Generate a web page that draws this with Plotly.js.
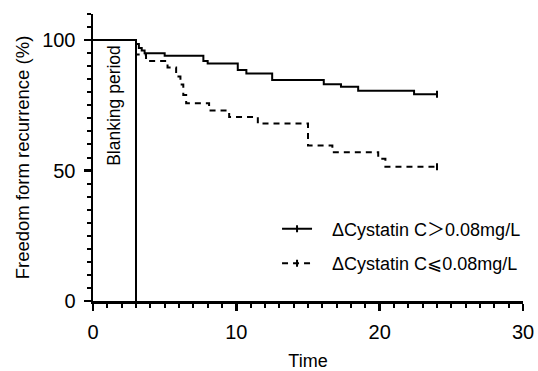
<!DOCTYPE html>
<html>
<head>
<meta charset="utf-8">
<script src="https://cdn.plot.ly/plotly-3.0.1.min.js"></script>
<style>html,body{margin:0;padding:0;background:#fff;}#chart{width:538px;height:371px;}</style>
</head>
<body>
<div id="chart"></div>
<script>
// Kaplan-Meier step data (time in months, survival %)
const solidTime = [0, 3.0, 3.2, 3.4, 3.6, 5.0, 7.7, 8.0, 10.1, 10.7, 12.5, 16.1, 17.3, 18.5, 22.4, 24];
const solidSurv = [100, 98.5, 97, 96, 95, 94, 92, 91, 88.5, 87.2, 84.7, 83.1, 82.1, 80.6, 79.2, 79.2];
const dashTime = [0, 3.0, 3.7, 5.2, 5.8, 6.1, 6.3, 6.5, 8.1, 9.5, 11.5, 15.0, 16.7, 19.9, 20.4, 24];
const dashSurv = [100, 94.5, 92, 89.5, 86, 83, 79, 75.8, 73, 70.5, 68, 59.6, 57, 54.5, 51.5, 51.5];
const censorTimeSolid = [24];
const censorSurvSolid = [79.2];
const censorTimeDash = [24];
const censorSurvDash = [51.5];
const seriesNames = ["ΔCystatin C＞0.08mg/L", "ΔCystatin C⩽0.08mg/L"];
const blankingEnd = 3;
const blankingLine = [0, 100];
const blankingLabel = "Blanking period";
const xTitle = "Time";
const yTitle = "Freedom form recurrence (%)";

const FONT = "Arial, 'Liberation Sans', 'Noto Sans CJK SC', 'DejaVu Sans', sans-serif";
const pad = "\u00a0\u00a0\u00a0";

const traces = [
  {x: solidTime, y: solidSurv, mode: "lines", line: {shape: "hv", color: "#000", width: 2}, showlegend: false, hoverinfo: "skip"},
  {x: dashTime, y: dashSurv, mode: "lines", line: {shape: "hv", color: "#000", width: 2, dash: "6px,5px"}, showlegend: false, hoverinfo: "skip"},
  {x: censorTimeSolid, y: censorSurvSolid, mode: "lines+markers", name: pad + seriesNames[0], legendgroup: "a",
   line: {color: "#000", width: 2}, marker: {symbol: "line-ns-open", size: 5, line: {width: 2, color: "#000"}}},
  {x: censorTimeDash, y: censorSurvDash, mode: "lines+markers", name: pad + seriesNames[1], legendgroup: "b",
   line: {color: "#000", width: 2, dash: "6px,5px"}, marker: {symbol: "line-ns-open", size: 5, line: {width: 2, color: "#000"}}},
  {x: [blankingEnd, blankingEnd], y: blankingLine, mode: "lines", line: {color: "#000", width: 2}, showlegend: false, hoverinfo: "skip"}
];

const layout = {
  width: 538, height: 371,
  margin: {l: 93, r: 13, t: 14, b: 70, pad: 0},
  paper_bgcolor: "#fff", plot_bgcolor: "#fff",
  font: {family: FONT, color: "#000", size: 18},
  showlegend: true,
  legend: {x: 0.428, y: 0.315, xanchor: "left", yanchor: "top", bgcolor: "rgba(0,0,0,0)",
           font: {family: FONT, size: 18, color: "#000"}, tracegroupgap: 8},
  xaxis: {
    range: [0, 30], showgrid: false, zeroline: false, showline: true, linewidth: 2.5, linecolor: "#000",
    ticks: "outside", tickwidth: 2.5, ticklen: 7, tickcolor: "#000", dtick: 10, tick0: 0,
    minor: {dtick: 1, ticks: "outside", ticklen: 4, tickwidth: 2, tickcolor: "#000"},
    tickfont: {family: FONT, size: 20, color: "#000"}, ticklabelstandoff: 4,
    title: {text: xTitle, font: {family: FONT, size: 18, color: "#000"}, standoff: 20}
  },
  yaxis: {
    range: [0, 110], showgrid: false, zeroline: false, showline: true, linewidth: 2.5, linecolor: "#000",
    ticks: "outside", tickwidth: 2.5, ticklen: 7, tickcolor: "#000", dtick: 50, tick0: 0,
    minor: {dtick: 5, ticks: "outside", ticklen: 4, tickwidth: 2, tickcolor: "#000"},
    tickfont: {family: FONT, size: 20, color: "#000"}, ticklabelstandoff: 4,
    title: {text: yTitle, font: {family: FONT, size: 18.5, color: "#000"}, standoff: 8}
  },
  annotations: [{
    x: blankingEnd / 2, y: 75, xref: "x", yref: "y", text: blankingLabel, textangle: -90,
    showarrow: false, font: {family: FONT, size: 17.5, color: "#000"}
  }]
};

Plotly.newPlot("chart", traces, layout, {staticPlot: true, displayModeBar: false});
</script>
</body>
</html>
